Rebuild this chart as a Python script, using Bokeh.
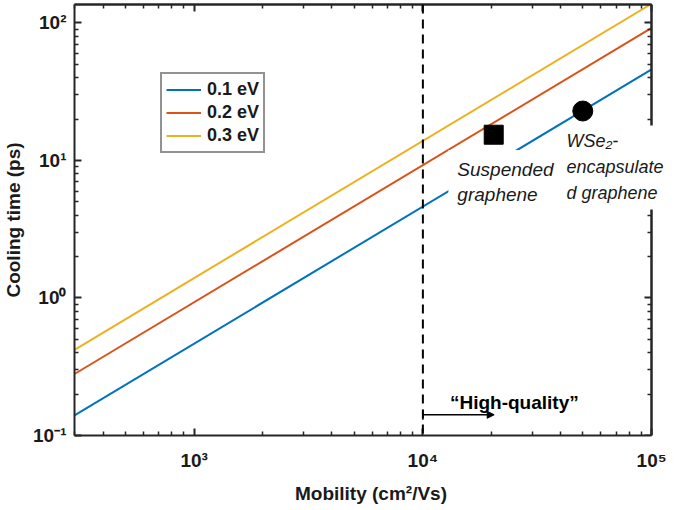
from bokeh.plotting import figure
from bokeh.models import LogAxis, FixedTicker, Span, Arrow, NormalHead, TeeHead, Label, Range1d
from bokeh.embed import file_html
from bokeh.resources import INLINE

# ---------------- data ----------------
mobility = [300, 100000]
tau_01 = [0.14, 46.0]
tau_02 = [0.28, 92.0]
tau_03 = [0.42, 138.0]
energies = ["0.1 eV", "0.2 eV", "0.3 eV"]
colors = ["#0072BD", "#D95319", "#EDB120"]

suspended_mu = [20400]
suspended_tau = [15.4]
wse2_mu = [50000]
wse2_tau = [22.9]

hq_threshold = 1e4
hq_arrow_end = 2.05e4
hq_arrow_tau = 0.1415

x_min, x_max = 300, 1e5
y_min, y_max = 0.1, 136.3
x_ticks = [1e3, 1e4, 1e5]
x_tick_labels = ["10³", "10⁴", "10⁵"]
y_ticks = [0.1, 1, 10, 100]
y_tick_labels = ["10⁻¹", "10⁰", "10¹", "10²"]
x_minor = [m * 10.0 ** e for e in range(2, 5) for m in range(2, 10)]
y_minor = [m * 10.0 ** e for e in range(-1, 3) for m in range(2, 10)]

FONT = "Liberation Sans"
INK = "#262626"

# frame runs to the canvas edge so the right-hand label can overhang the axes box
p = figure(width=667, height=506, x_axis_type="log", y_axis_type="log",
           x_range=Range1d(x_min, 1.173e5), y_range=Range1d(y_min, y_max),
           output_backend="svg", toolbar_location=None,
           min_border_left=69, min_border_right=0, min_border_top=4, min_border_bottom=67,
           x_axis_label="Mobility (cm²/Vs)", y_axis_label="Cooling time (ps)")
p.xgrid.visible = False
p.ygrid.visible = False
p.outline_line_color = None
p.background_fill_color = "white"
p.border_fill_color = "white"

bottom_ax = p.below[0]
left_ax = p.left[0]

bottom_ax.ticker = FixedTicker(ticks=x_ticks, minor_ticks=x_minor)
bottom_ax.major_label_overrides = {t: l for t, l in zip(x_ticks, x_tick_labels)}
bottom_ax.bounds = (x_min, x_max)
left_ax.ticker = FixedTicker(ticks=y_ticks, minor_ticks=y_minor)
left_ax.major_label_overrides = {t: l for t, l in zip(y_ticks, y_tick_labels)}

for ax in (bottom_ax, left_ax):
    ax.axis_line_color = INK
    ax.axis_line_width = 2
    ax.major_tick_line_color = INK
    ax.minor_tick_line_color = INK
    ax.major_tick_line_width = 2
    ax.minor_tick_line_width = 1.5
    ax.major_tick_in = 7
    ax.major_tick_out = 0
    ax.minor_tick_in = 4
    ax.minor_tick_out = 0
    ax.major_label_text_font = FONT
    ax.major_label_text_font_style = "bold"
    ax.major_label_text_font_size = "19px"
    ax.major_label_text_color = "#1a1a1a"
    ax.axis_label_text_font = FONT
    ax.axis_label_text_font_style = "bold"
    ax.axis_label_text_font_size = "19px"
    ax.axis_label_text_color = "#1a1a1a"

bottom_ax.major_label_standoff = 14
bottom_ax.axis_label_standoff = 9
left_ax.major_label_standoff = 8
left_ax.axis_label_standoff = 6

# mirrored tick marks on top / right (no labels: ticks given as minor ticks only)
for place, majors, minors in (("above", x_ticks, x_minor), ("right", y_ticks, y_minor)):
    for ticks, length in ((majors, 7), (minors, 4)):
        ax = LogAxis(ticker=FixedTicker(ticks=[], minor_ticks=ticks), axis_label=None)
        ax.minor_tick_in = length
        ax.minor_tick_out = 0
        ax.major_tick_in = 0
        ax.major_tick_out = 0
        ax.minor_tick_line_width = 2 if length == 7 else 1.5
        ax.minor_tick_line_color = INK
        ax.axis_line_color = INK
        ax.axis_line_width = 2
        if place == "above":
            ax.bounds = (x_min, x_max)
        else:
            ax.fixed_location = x_max
        p.add_layout(ax, place)

# lines
for tau, c, lab in zip([tau_01, tau_02, tau_03], colors, energies):
    p.line(mobility, tau, line_color=c, line_width=2, legend_label=lab)

# threshold line
p.add_layout(Span(location=hq_threshold, dimension="height", line_color="black",
                  line_width=2, line_dash="9 6"))

# markers
p.scatter(suspended_mu, suspended_tau, marker="square", size=19, color="black")
p.scatter(wse2_mu, wse2_tau, marker="circle", size=20, color="black")

# legend
lg = p.legend[0]
lg.location = (86, 282)
lg.border_line_color = INK
lg.border_line_width = 2
lg.padding = 4
lg.spacing = 0
lg.margin = 0
lg.glyph_width = 35
lg.glyph_height = 23
lg.label_height = 23
lg.label_standoff = 6
lg.label_text_font = FONT
lg.label_text_font_style = "bold"
lg.label_text_font_size = "18px"
lg.label_text_color = "#1a1a1a"
lg.background_fill_color = "white"
lg.background_fill_alpha = 1

# arrow for "High-quality"
p.add_layout(Arrow(x_start=hq_threshold, y_start=hq_arrow_tau, x_end=hq_arrow_end, y_end=hq_arrow_tau,
                   line_color="black", line_width=1.5,
                   start=TeeHead(size=10, line_width=1.5, line_color="black"),
                   end=NormalHead(size=7, fill_color="black", line_color="black")))
p.add_layout(Label(x=25100, y=0.173, text="“High-quality”", text_align="center",
                   text_baseline="alphabetic", text_font=FONT, text_font_style="bold",
                   text_font_size="19px", text_color="black"))

# annotation labels with white boxes
p.add_layout(Label(x=12925, y=11.9, text="Suspended\ngraphene", anchor="top_left",
                   text_font=FONT, text_font_style="italic", text_font_size="19px",
                   text_color="#1a1a1a", background_fill_color="white", padding=9))
p.add_layout(Label(x=39950, y=18.0, text="WSe₂-\nencapsulate\nd graphene", anchor="top_left",
                   text_font=FONT, text_font_style="italic", text_font_size="18px",
                   text_color="#1a1a1a", background_fill_color="white", padding=6,
                   text_line_height=1.3))

open("out.html", "w").write(file_html(p, INLINE))
